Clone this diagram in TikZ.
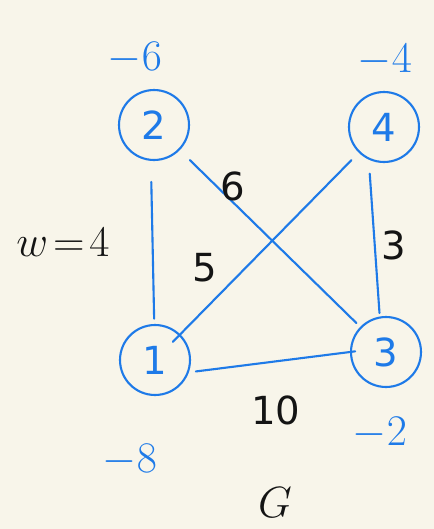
\documentclass[tikz,border=0pt]{standalone}
\usepackage{fontspec}
\setmainfont{DejaVu Sans}
\definecolor{paper}{RGB}{248, 245, 234}
\definecolor{inkblue}{RGB}{30, 122, 232}
\definecolor{inkblack}{RGB}{20, 20, 20}
\usetikzlibrary{positioning, calc}

\begin{document}
\begin{tikzpicture}[x=0.02cm, y=-0.02cm,
    vertex/.style={circle, draw=inkblue, line width=1.2pt, minimum size=1.4cm, inner sep=0pt, text=inkblue, font=\fontsize{22}{26}\selectfont},
    edge/.style={inkblue, line width=1.2pt, line cap=round},
    demand/.style={text=inkblue, font=\fontsize{27}{32}\selectfont},
    weight/.style={text=inkblack, font=\fontsize{22}{26}\selectfont}]
                % Paper
                \fill[paper] (0,0) rectangle (434,529);
                \useasboundingbox (0,0) rectangle (434,529);

                % Vertices
                \node[vertex] (n2) at (154,125) {2};
                \node[vertex] (n4) at (384,127) {4};
                \node[vertex] (n1) at (155,360) {1};
                \node[vertex] (n3) at (386,352) {3};

                % Demands
                \node[demand] (d2) at (135,58) {$-6$};
                \node[demand] (d4) at (385,60) {$-4$};
                \node[demand] (d1) at (130,460) {$-8$};
                \node[demand] (d3) at (380,433) {$-2$};

                % Edges
                \draw[edge, shorten <=12pt, shorten >=3pt] (n2.-95) -- (n1);
                \draw[edge, shorten <=8pt, shorten >=3pt] (n2) -- (n3);
                \draw[edge, shorten <=6pt, shorten >=-6pt] (n4) -- (n1);
                \draw[edge, shorten <=8pt, shorten >=2pt] (n4.-115) -- (n3.100);
                \draw[edge, shorten <=4pt, shorten >=-3pt] (n1.-20) -- (n3.west);

                % Weights
                \node[weight] (w23) at (233,186) {6};
                \node[weight] (w41) at (205,268) {5};
                \node[weight] (w43) at (394,245) {3};
                \node[weight] (w13) at (276,410) {10};
                \node[weight, font=\fontsize{30}{34}\selectfont] (cap) at (63,242) {$w\!=\!4$};
                \node[weight, font=\fontsize{32}{36}\selectfont] (title) at (275,503) {$G$};
            \end{tikzpicture}
\end{document}
